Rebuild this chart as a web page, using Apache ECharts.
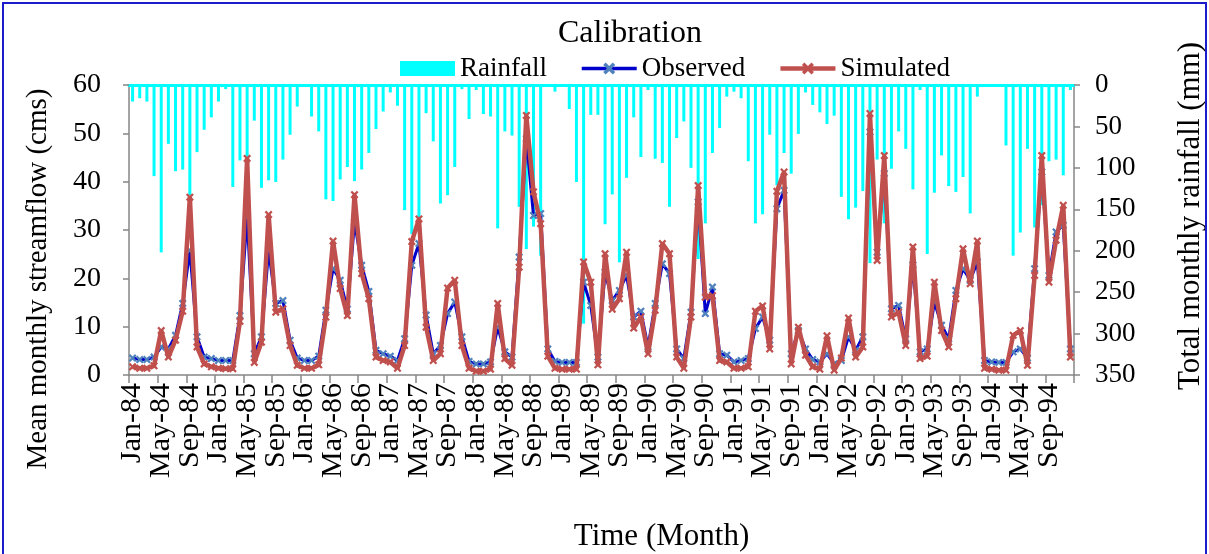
<!DOCTYPE html>
<html>
<head>
<meta charset="utf-8">
<script src="https://cdn.jsdelivr.net/npm/echarts/dist/echarts.min.js"></script>
<style>
html,body{margin:0;padding:0;background:#ffffff;}
#chart{width:1209px;height:554px;}
</style>
</head>
<body>
<div id="chart"></div>
<script>
// ---- data ----
const monthNames = ['Jan','Feb','Mar','Apr','May','Jun','Jul','Aug','Sep','Oct','Nov','Dec'];
const yearLabels = ['84','85','86','87','88','89','90','91','92','93','94'];
const categories = [];
yearLabels.forEach(function (y) { monthNames.forEach(function (m) { categories.push(m + '-' + y); }); });

// Total monthly rainfall (mm), Jan-84 .. Dec-94
const rainfall = [
  20, 16, 20, 110, 202, 71, 104, 102, 133, 81, 54, 39,
  20, 5, 123, 91, 88, 43, 124, 115, 117, 90, 60, 26,
  0, 38, 56, 138, 140, 114, 99, 116, 102, 82, 53, 32,
  9, 25, 151, 180, 160, 34, 68, 143, 133, 99, 5, 41,
  6, 35, 38, 173, 56, 61, 147, 198, 171, 206, 0, 8,
  0, 29, 117, 288, 36, 36, 168, 132, 214, 112, 39, 87,
  6, 89, 94, 147, 64, 44, 100, 210, 167, 82, 52, 14,
  8, 16, 92, 167, 156, 60, 121, 82, 107, 59, 9, 24,
  33, 47, 37, 135, 162, 148, 128, 215, 90, 167, 101, 56,
  77, 126, 6, 204, 130, 85, 122, 129, 111, 155, 14, 1,
  0, 1, 73, 206, 178, 77, 172, 145, 92, 90, 109, 6
];

// Observed mean monthly streamflow (cms)
const observed = [
  3.5, 3.2, 3.2, 3.7, 5.8, 5.4, 8.2, 14.8, 25.8, 7.9, 3.7, 3.4,
  3.0, 3.0, 3.0, 12.3, 32.7, 4.4, 7.9, 25.8, 14.8, 15.4, 7.2, 3.5,
  3.0, 3.0, 3.9, 13.4, 22.0, 19.6, 13.6, 31.7, 22.7, 17.3, 5.1, 4.4,
  3.9, 3.0, 7.5, 22.7, 27.2, 12.4, 4.4, 6.1, 12.7, 15.1, 7.9, 2.8,
  2.3, 2.3, 2.7, 9.9, 4.8, 3.7, 24.4, 48.9, 33.0, 33.4, 5.4, 2.8,
  2.6, 2.6, 2.6, 19.2, 14.4, 3.7, 21.3, 15.4, 17.5, 20.6, 12.0, 13.2,
  5.8, 14.8, 23.0, 21.0, 5.4, 3.4, 13.0, 35.8, 12.7, 18.2, 4.4, 4.1,
  2.7, 3.0, 3.4, 9.6, 12.0, 7.2, 34.4, 38.2, 4.4, 9.2, 5.4, 3.2,
  2.7, 4.4, 2.3, 3.0, 7.9, 5.1, 7.9, 50.3, 25.4, 41.7, 13.7, 14.4,
  7.5, 22.8, 4.8, 5.4, 15.1, 10.3, 7.5, 17.5, 22.0, 19.6, 23.4, 3.0,
  2.7, 2.6, 2.6, 4.8, 5.4, 3.5, 22.0, 42.0, 20.6, 29.6, 31.0, 5.4
];

// Simulated mean monthly streamflow (cms)
const simulated = [
  1.7, 1.4, 1.4, 1.9, 9.2, 3.7, 7.2, 13.2, 36.8, 5.8, 2.3, 1.7,
  1.4, 1.3, 1.3, 11.1, 44.8, 2.6, 6.8, 33.2, 13.0, 13.7, 6.1, 2.0,
  1.4, 1.4, 2.1, 12.0, 27.7, 17.9, 12.3, 37.3, 21.0, 15.8, 3.7, 3.0,
  2.7, 1.4, 6.1, 27.6, 32.3, 9.9, 3.0, 4.4, 18.0, 19.6, 6.1, 1.4,
  0.8, 0.8, 1.2, 14.8, 3.4, 2.0, 22.3, 53.7, 37.9, 31.3, 3.9, 1.4,
  1.2, 1.2, 1.2, 23.4, 19.2, 2.1, 25.1, 13.6, 15.8, 25.4, 9.7, 12.0,
  4.4, 13.4, 27.2, 25.1, 3.7, 1.4, 12.0, 39.2, 16.1, 16.4, 3.0, 2.7,
  1.4, 1.4, 1.7, 13.2, 14.3, 5.4, 38.0, 42.0, 2.3, 9.9, 4.1, 1.7,
  1.2, 8.1, 1.0, 3.5, 11.8, 3.7, 5.8, 54.1, 23.7, 45.4, 12.0, 13.0,
  6.1, 26.5, 3.4, 3.9, 19.2, 9.2, 5.8, 15.8, 26.1, 18.9, 27.7, 1.4,
  1.2, 1.0, 1.0, 8.2, 9.2, 2.0, 20.6, 45.4, 19.2, 27.9, 35.1, 3.7
];

const streamTicks = { min: 0, max: 60, interval: 10 };
const rainTicks = { min: 0, max: 350, interval: 50 };
const labelEvery = 4;

// ---- chart ----
const FONT = '"Liberation Serif", "Times New Roman", serif';
const AXIS_GREY = '#868686';
const X_MARK = 'path://M2,0 L5,3 L8,0 L10,2 L7,5 L10,8 L8,10 L5,7 L2,10 L0,8 L3,5 L0,2 Z';
const everyFourth = function (index) { return index % labelEvery === 0; };

const chart = echarts.init(document.getElementById('chart'), null, { renderer: 'canvas' });
chart.setOption({
  animation: false,
  backgroundColor: '#ffffff',
  graphic: [{
    type: 'rect', silent: true, z: 100,
    shape: { x: 3, y: 3, width: 1203, height: 600 },
    style: { fill: 'none', stroke: '#1c1ccc', lineWidth: 2 }
  }],
  title: {
    text: 'Calibration', left: 630, top: 18, textAlign: 'center', padding: 0,
    textStyle: { fontFamily: FONT, fontSize: 32, fontWeight: 'normal', color: '#000' }
  },
  legend: {
    left: 400, top: 55, padding: 0, itemWidth: 55, itemHeight: 15, itemGap: 33,
    textStyle: { fontFamily: FONT, fontSize: 27, color: '#000' },
    data: [
      { name: 'Rainfall', icon: 'rect' },
      { name: 'Observed', lineStyle: { width: 3.5 } },
      { name: 'Simulated', lineStyle: { width: 4.5 } }
    ]
  },
  grid: { left: 129, right: 135, top: 85, bottom: 179, containLabel: false, outerBoundsMode: 'none' },
  xAxis: [{
    type: 'category', position: 'bottom', data: categories, boundaryGap: true,
    axisLine: { show: true, onZero: false, lineStyle: { color: AXIS_GREY, width: 1.5 } },
    axisTick: { show: true, interval: everyFourth, length: 8, alignWithLabel: false, lineStyle: { color: AXIS_GREY, width: 1.5 } },
    axisLabel: {
      interval: 0, rotate: 90, margin: 8, fontFamily: FONT, fontSize: 30,
      color: '#000', hideOverlap: false,
      formatter: function (value, index) { return index % labelEvery === 0 ? value : ''; }
    },
    splitLine: { show: false },
    name: 'Time (Month)', nameLocation: 'middle', nameGap: 146,
    nameTextStyle: { fontFamily: FONT, fontSize: 31, color: '#000', padding: [0, 0, 0, 120] }
  }, {
    type: 'category', position: 'top', data: categories, boundaryGap: true,
    axisLine: { show: true, onZero: false, lineStyle: { color: '#00ffff', width: 3 } },
    axisTick: { show: false }, axisLabel: { show: false }, splitLine: { show: false }
  }],
  yAxis: [{
    type: 'value', position: 'left', min: streamTicks.min, max: streamTicks.max, interval: streamTicks.interval,
    axisLine: { show: true, lineStyle: { color: AXIS_GREY, width: 1.5 } },
    axisTick: { show: true, length: 6, lineStyle: { color: AXIS_GREY, width: 1.5 } },
    axisLabel: { margin: 28, fontFamily: FONT, fontSize: 28, color: '#000' },
    splitLine: { show: false },
    name: 'Mean monthly streamflow (cms)', nameLocation: 'middle', nameGap: 76,
    nameTextStyle: { fontFamily: FONT, fontSize: 29, color: '#000', padding: [0, 98, 0, 0] }
  }, {
    type: 'value', position: 'right', inverse: true, min: rainTicks.min, max: rainTicks.max, interval: rainTicks.interval,
    axisLine: { show: true, lineStyle: { color: AXIS_GREY, width: 1.5 } },
    axisTick: { show: true, length: 6, lineStyle: { color: AXIS_GREY, width: 1.5 } },
    axisLabel: { margin: 21, fontFamily: FONT, fontSize: 27, color: '#000' },
    splitLine: { show: false },
    name: 'Total monthly rainfall (mm)', nameLocation: 'middle', nameGap: 101,
    nameTextStyle: { fontFamily: FONT, fontSize: 31, color: '#000', padding: [0, 0, 0, 28] }
  }],
  series: [{
    name: 'Rainfall', type: 'bar', xAxisIndex: 1, yAxisIndex: 1, data: rainfall,
    barWidth: 3, itemStyle: { color: '#00ffff' }, z: 1
  }, {
    name: 'Observed', type: 'line', xAxisIndex: 0, yAxisIndex: 0, data: observed,
    symbol: X_MARK, symbolSize: 8, showAllSymbol: true,
    lineStyle: { color: '#0000cc', width: 3 }, itemStyle: { color: '#4f81bd' }, z: 2
  }, {
    name: 'Simulated', type: 'line', xAxisIndex: 0, yAxisIndex: 0, data: simulated,
    symbol: X_MARK, symbolSize: 8, showAllSymbol: true,
    lineStyle: { color: '#c0504d', width: 4.5 }, itemStyle: { color: '#c0504d' }, z: 3
  }]
});
</script>
</body>
</html>
